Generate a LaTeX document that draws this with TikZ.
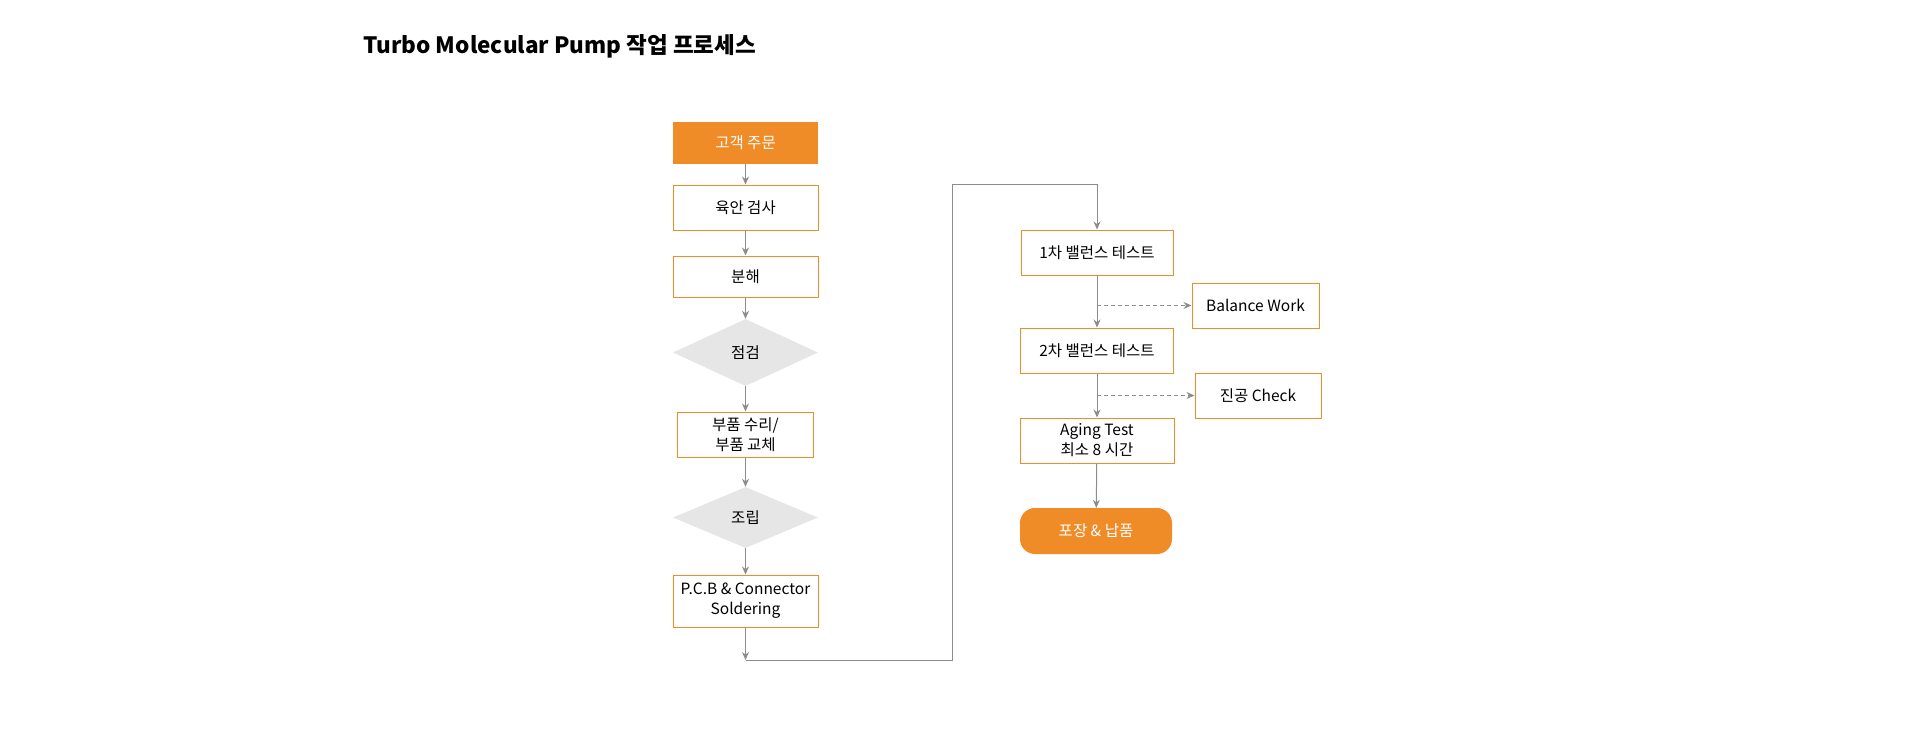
\documentclass[tikz,border=0pt]{standalone}
\usepackage{fontspec}
\setmainfont{Noto Sans CJK KR}
\usetikzlibrary{arrows.meta,shapes.geometric}
\definecolor{orng}{HTML}{F08C28}
\definecolor{lgray}{HTML}{8C8C8C}
\definecolor{dfill}{HTML}{E6E6E6}
\begin{document}
\begin{tikzpicture}[
  x=1pt,y=-1pt,
  >={Stealth[length=8pt,width=7pt]},
  every node/.style={font=\fontsize{15.5}{20}\selectfont,align=center,inner sep=1pt},
  box/.style={draw=orng,line width=1pt,minimum width=145pt,minimum height=45pt},
  head/.style={fill=orng,text=white,minimum width=145pt,minimum height=42pt},
  dia/.style={diamond,aspect=2.2,fill=dfill,minimum width=145pt,minimum height=64pt,inner sep=0pt},
  arc/.style={->,draw=lgray,line width=1pt},
  side/.style={->,draw=lgray,line width=1pt,dash pattern=on 4pt off 3pt}
]
\useasboundingbox (0,0) rectangle (1920,731);
\node[anchor=base west,font=\fontsize{22.5}{26}\selectfont\bfseries] (title) at (362,53) {Turbo Molecular Pump 작업 프로세스};
% left column
\node[head] (order) at (745.5,143) {고객 주문};
\node[box] (visual) at (745.5,207.5) {육안 검사};
\node[box,minimum height=41pt] (disasm) at (745.5,276.5) {분해};
\node[dia,minimum height=67pt] (insp) at (745.5,352.5) {점검};
\node[box,minimum width=136pt] (repair) at (745.5,434.5) {부품 수리/\\부품 교체};
\node[dia,minimum height=61pt] (assy) at (745.5,517.5) {조립};
\node[box,minimum height=52pt] (pcb) at (745.5,601) {P.C.B \& Connector\\Soldering};
\coordinate (c1) at (745.5,660);
\coordinate (c2) at (952,660);
\coordinate (c3) at (952,184);
% right column
\node[box,minimum width=152pt] (bal1) at (1097,252.5) {1차 밸런스 테스트};
\node[box,minimum width=127pt] (bwork) at (1255.5,305.5) {Balance Work};
\node[box,minimum width=153pt] (bal2) at (1097,350.5) {2차 밸런스 테스트};
\node[box,minimum width=126pt] (vac) at (1258,395.5) {진공 Check};
\node[box,minimum width=154pt] (aging) at (1097,440.5) {Aging Test\\최소 8 시간};
\node[head,rounded corners=15pt,minimum width=152pt,minimum height=46pt] (pack) at (1096,531) {포장 \& 납품};
\draw[arc] (order) -- (visual);
\draw[arc] (visual) -- (disasm);
\draw[arc] (disasm) -- (insp);
\draw[arc] (insp) -- (repair);
\draw[arc] (repair) -- (assy);
\draw[arc] (assy) -- (pcb);
\draw[arc] (pcb) -- (c1);
\draw[arc] (c1) -- (c2) -- (c3) -- (c3 -| bal1.north) -- (bal1);
\draw[arc] (bal1) -- (bal2);
\draw[arc] (bal2) -- (aging);
\draw[arc] (aging) -- (pack);
\draw[side] (bal1.south |- bwork.west) -- (bwork);
\draw[side] (bal2.south |- vac.west) -- (vac);
\end{tikzpicture}
\end{document}
